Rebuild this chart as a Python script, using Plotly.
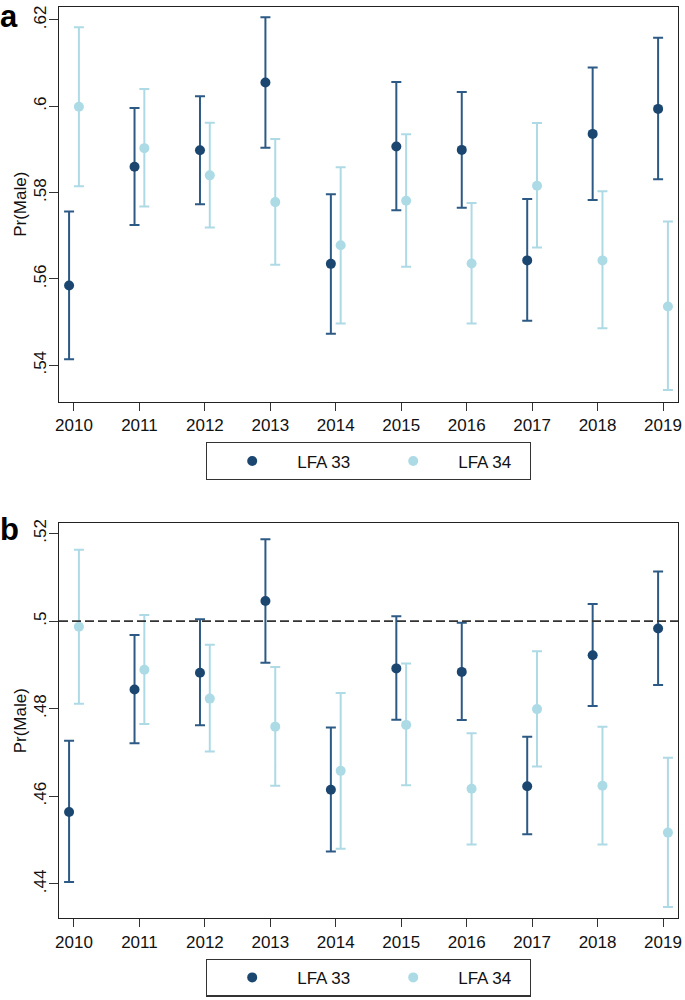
import plotly.graph_objects as go

years = [2010, 2011, 2012, 2013, 2014, 2015, 2016, 2017, 2018, 2019]

# Panel a
a33 = [0.5585, 0.5860, 0.5898, 0.6055, 0.5635, 0.5907, 0.5899, 0.5643, 0.5936, 0.5994]
a33_hi = [0.5756, 0.5996, 0.6023, 0.6206, 0.5796, 0.6056, 0.6033, 0.5785, 0.6090, 0.6159]
a33_lo = [0.5414, 0.5725, 0.5773, 0.5904, 0.5473, 0.5759, 0.5765, 0.5503, 0.5783, 0.5831]
a34 = [0.5999, 0.5903, 0.5840, 0.5778, 0.5678, 0.5781, 0.5636, 0.5816, 0.5643, 0.5536]
a34_hi = [0.6183, 0.6040, 0.5962, 0.5924, 0.5859, 0.5935, 0.5776, 0.5961, 0.5803, 0.5733]
a34_lo = [0.5815, 0.5768, 0.5719, 0.5633, 0.5497, 0.5628, 0.5497, 0.5673, 0.5486, 0.5343]

# Panel b
b33 = [0.4564, 0.4844, 0.4882, 0.5046, 0.4615, 0.4892, 0.4884, 0.4623, 0.4922, 0.4983]
b33_hi = [0.4727, 0.4968, 0.5004, 0.5187, 0.4757, 0.5011, 0.4996, 0.4736, 0.5039, 0.5113]
b33_lo = [0.4404, 0.4721, 0.4762, 0.4905, 0.4474, 0.4775, 0.4774, 0.4513, 0.4806, 0.4854]
b34 = [0.4987, 0.4889, 0.4823, 0.4759, 0.4658, 0.4763, 0.4617, 0.4799, 0.4624, 0.4517]
b34_hi = [0.5163, 0.5014, 0.4946, 0.4895, 0.4836, 0.4903, 0.4744, 0.4931, 0.4759, 0.4688]
b34_lo = [0.4811, 0.4765, 0.4702, 0.4624, 0.4480, 0.4625, 0.4490, 0.4668, 0.4490, 0.4347]

a_ticks = [0.54, 0.56, 0.58, 0.6, 0.62]
a_ticklabels = [".54", ".56", ".58", ".6", ".62"]
b_ticks = [0.44, 0.46, 0.48, 0.5, 0.52]
b_ticklabels = [".44", ".46", ".48", ".5", ".52"]

names = ["LFA 33", "LFA 34"]
dark = "#1b4670"
dark_bar = "#2c5a85"
light = "#acdbe6"
light_bar = "#aedae6"
dodge = 0.075
FONT = "Arial, Liberation Sans, sans-serif"

fig = go.Figure()


def add_series(vals, hi, lo, off, color, barcolor, name, xa, ya, legend):
    fig.add_trace(go.Scatter(
        x=[y + off for y in years], y=vals, mode="markers", name=name,
        marker=dict(color=color, size=10),
        error_y=dict(type="data", symmetric=False,
                     array=[h - v for h, v in zip(hi, vals)],
                     arrayminus=[v - l for v, l in zip(vals, lo)],
                     color=barcolor, thickness=2, width=5),
        xaxis=xa, yaxis=ya, legend=legend, showlegend=True,
    ))


add_series(a33, a33_hi, a33_lo, -dodge, dark, dark_bar, names[0], "x", "y", "legend")
add_series(a34, a34_hi, a34_lo, dodge, light, light_bar, names[1], "x", "y", "legend")
add_series(b33, b33_hi, b33_lo, -dodge, dark, dark_bar, names[0], "x2", "y2", "legend2")
add_series(b34, b34_hi, b34_lo, dodge, light, light_bar, names[1], "x2", "y2", "legend2")

xcommon = dict(range=[2009.771, 2019.229], tickmode="array", tickvals=years,
               ticktext=[str(y) for y in years], ticks="outside", ticklen=8,
               tickwidth=1.3, tickcolor="#333", showgrid=False, zeroline=False,
               showline=True, linecolor="#222", linewidth=1.3, mirror=True,
               ticklabeloverflow="allow",
               tickfont=dict(family=FONT, size=17, color="#111"))
ycommon = dict(ticks="outside", ticklen=9, tickwidth=1.3, tickcolor="#333",
               showgrid=False, zeroline=False, showline=True, linecolor="#222",
               linewidth=1.3, mirror=True, tickangle=-90, ticklabelstandoff=-4,
               tickfont=dict(family=FONT, size=17, color="#111"),
               title=dict(text="Pr(Male)", font=dict(family=FONT, size=17, color="#111"), standoff=0))

legcommon = dict(orientation="h", x=0.5, xanchor="center", bordercolor="#333",
                 borderwidth=1.2, bgcolor="white", itemwidth=80, entrywidth=66,
                 entrywidthmode="pixels",
                 font=dict(family=FONT, size=17, color="#111"))

fig.update_layout(
    width=685, height=1000,
    margin=dict(l=59, r=6, t=3, b=78),
    plot_bgcolor="white", paper_bgcolor="white",
    xaxis=dict(domain=[0, 1], anchor="y", **xcommon),
    yaxis=dict(domain=[0.5669, 1], anchor="x", range=[0.5316, 0.623],
               tickvals=a_ticks, ticktext=a_ticklabels, **ycommon),
    xaxis2=dict(domain=[0, 1], anchor="y2", **xcommon),
    yaxis2=dict(domain=[0, 0.4331], anchor="x2", range=[0.4322, 0.5223],
                tickvals=b_ticks, ticktext=b_ticklabels, **ycommon),
    legend=dict(y=0.5223, yanchor="top", **legcommon),
    legend2=dict(y=-0.0446, yanchor="top", **legcommon),
    shapes=[dict(type="line", xref="x2 domain", yref="y2", x0=0, x1=1, y0=0.5, y1=0.5,
                 line=dict(color="#333", width=1.8, dash="9px,4px"))],
    annotations=[
        dict(text="<b>a</b>", xref="paper", yref="paper", x=-59 / 620, y=1.0,
             xanchor="left", yanchor="top", showarrow=False, yshift=10, xshift=-2,
             font=dict(family=FONT, size=31, color="black")),
        dict(text="<b>b</b>", xref="paper", yref="paper", x=-59 / 620, y=(922 - 510) / 919,
             xanchor="left", yanchor="top", showarrow=False, xshift=-2,
             font=dict(family=FONT, size=31, color="black")),
    ],
)

fig.write_html("out.html", config={"displayModeBar": False},
               post_script="document.body.style.margin='0';document.body.style.overflow='hidden';")
